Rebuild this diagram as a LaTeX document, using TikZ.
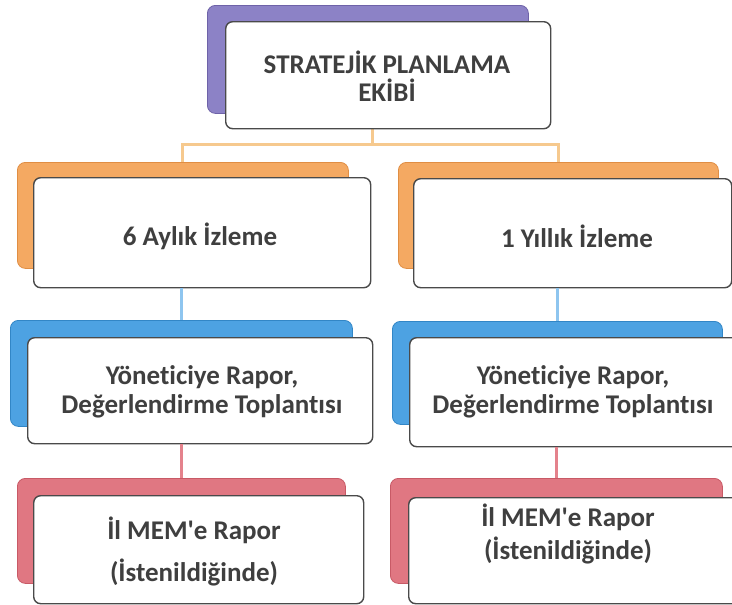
\documentclass[tikz,border=0pt]{standalone}
\usepackage{fontspec}
\setmainfont{Carlito}[Ligatures={TeXOff,CommonOff}]
\definecolor{txt}{HTML}{3F3F3F}
\definecolor{frame}{HTML}{4A4A4A}
\definecolor{purp}{HTML}{8C82C6}
\definecolor{purpD}{HTML}{6E62A8}
\definecolor{orng}{HTML}{F4A962}
\definecolor{orngD}{HTML}{E08E44}
\definecolor{blu}{HTML}{4DA2E2}
\definecolor{bluD}{HTML}{3286C6}
\definecolor{rd}{HTML}{E07782}
\definecolor{rdD}{HTML}{C85A66}
\definecolor{lnO}{HTML}{F6C98E}
\definecolor{lnB}{HTML}{8EC5EF}
\definecolor{lnR}{HTML}{E4828C}
\tikzset{
  backbox/.style={draw=#1D, line width=0.8pt, fill=#1, rounded corners=8pt, inner sep=0pt},
  frontbox/.style={draw=frame, line width=1.4pt, fill=white, rounded corners=7pt, inner sep=0pt},
  lbl/.style={text=txt, font=\bfseries\fontsize{27}{29}\selectfont, align=center, inner sep=0pt},
  conn/.style={draw=#1, line width=3pt}
}
\newcommand{\bx}[6]{\node[#1, anchor=north west, minimum width=#4-#2, minimum height=#5-#3] (#6) at (#2,#3) {};}
\begin{document}
\begin{tikzpicture}[x=1pt,y=-1pt]
\clip (0,0) rectangle (732,605);
\fill[white] (0,0) rectangle (732,605);
% back boxes
\bx{backbox=purp}{207}{5}{528}{113}{topB}
\bx{backbox=orng}{17}{162}{348}{268}{lB1}
\bx{backbox=orng}{398}{162}{718}{268}{rB1}
\bx{backbox=blu}{10}{320}{352}{426}{lB2}
\bx{backbox=blu}{392}{321}{722}{424}{rB2}
\bx{backbox=rd}{17}{478}{345}{583}{lB3}
\bx{backbox=rd}{390}{478}{722}{583}{rB3}
% connectors
\coordinate (jT) at (372,128);
\coordinate (jL) at (lB1.north |- 0,144);
\coordinate (jR) at (rB1.north |- 0,144);
\draw[conn=lnO] (jT) -- (jT |- jL);
\draw[conn=lnO] (lB1.north) -- (jL) -- (jR) -- (rB1.north);
% front boxes
\bx{frontbox}{225}{21}{550}{128}{topF}
\bx{frontbox}{33}{177}{370}{287}{lF1}
\bx{frontbox}{413}{178}{731}{287}{rF1}
\bx{frontbox}{27}{337}{372}{443}{lF2}
\bx{frontbox}{409}{337}{745}{446}{rF2}
\bx{frontbox}{33}{495}{363}{603}{lF3}
\bx{frontbox}{408}{497}{745}{603}{rF3}
\draw[conn=lnB] (lB2.north) -- (lB2.north |- lF1.south);
\draw[conn=lnB] (rB2.north) -- (rB2.north |- rF1.south);
\draw[conn=lnR] (lB3.north) -- (lB3.north |- lF2.south);
\draw[conn=lnR] (rB3.north) -- (rB3.north |- rF2.south);
% labels
\node[lbl, font=\bfseries\fontsize{27}{28}\selectfont] (tT) at (387,76) {STRATEJİK PLANLAMA\\EKİBİ};
\node[lbl] (tL1) at (200,236) {6 Aylık İzleme};
\node[lbl] (tR1) at (577,236) {1 Yıllık İzleme};
\node[lbl] (tL2) at (202,392) {Yöneticiye Rapor,\\Değerlendirme Toplantısı};
\node[lbl] (tR2) at (573,392) {Yöneticiye Rapor,\\Değerlendirme Toplantısı};
\node[lbl, font=\bfseries\fontsize{27}{42}\selectfont] (tL3) at (194,551) {İl MEM'e Rapor\\(İstenildiğinde)};
\node[lbl, font=\bfseries\fontsize{27}{33}\selectfont] (tR3) at (568,534) {İl MEM'e Rapor\\(İstenildiğinde)};
\end{tikzpicture}
\end{document}
